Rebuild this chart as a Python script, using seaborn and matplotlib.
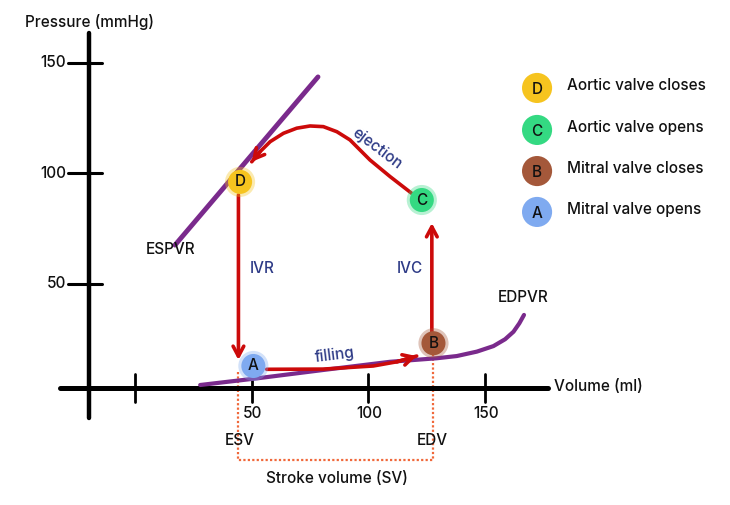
import numpy as np
import pandas as pd
import matplotlib
matplotlib.use("Agg")
import matplotlib.pyplot as plt
import seaborn as sns

# Точки клапанов (объём, мл / давление, мм рт. ст.)
valve_labels = ["A", "B", "C", "D"]
valve_volume = [50.7, 127.9, 122.9, 45.0]
valve_pressure = [12.9, 23.2, 88.0, 96.2]
valve_colors = ["#7faaf0", "#a4583a", "#34d982", "#f6c41f"]

legend_labels = ["D", "C", "B", "A"]
legend_text = ["Aortic valve closes", "Aortic valve opens",
               "Mitral valve closes", "Mitral valve opens"]
legend_colors = ["#f6c41f", "#34d982", "#a4583a", "#7faaf0"]

# Кривые
espvr_volume = [17.1, 78.4]
espvr_pressure = [67.6, 143.7]

edpvr_volume = [27.9, 52.2, 80.7, 109.3, 129.3, 137.9, 146.5, 153.6, 158.6,
                162.2, 164.7, 166.7]
edpvr_pressure = [4.3, 7.3, 11.1, 14.8, 16.4, 17.4, 19.4, 21.9, 25.0,
                  28.4, 32.2, 36.0]

ejection_volume = [122.9, 118.6, 109.3, 100.7, 92.1, 86.5, 80.7, 75.0, 69.3,
                   63.6, 57.9, 53.6, 50.0]
ejection_pressure = [88.0, 91.0, 98.6, 106.1, 115.2, 118.9, 121.2, 121.5,
                     120.5, 118.2, 114.4, 109.9, 105.3]

filling_volume = [56.4, 80.7, 102.1, 112.2, 120.7]
filling_pressure = [11.4, 11.5, 12.9, 14.8, 17.4]

ivr_volume = [44.3, 44.3]
ivr_pressure = [90.3, 15.6]
ivc_volume = [127.2, 127.2]
ivc_pressure = [23.3, 77.6]

esv = 44.3
edv = 127.9

x_ticks = [0, 50, 100, 150]
x_tick_labels = ["", "50", "100", "150"]
y_ticks = [50, 100, 150]
y_tick_labels = ["50", "100", "150"]

RED = "#cc0a0a"
PURPLE = "#7a2a8c"
NAVY = "#2d3a86"
ORANGE = "#f0683a"
FS = 11

sns.set_theme(style="white")
plt.rcParams["font.family"] = ["Inter", "DejaVu Sans"]
plt.rcParams["font.weight"] = "medium"
plt.rcParams["text.color"] = "#111111"

fig = plt.figure(figsize=(7.3, 5.05), dpi=100)
ax = fig.add_axes([0, 0, 1, 1])
ax.set_xlim(-57.9, 255.0)
ax.set_ylim(-50.0, 178.5)
ax.axis("off")

# Оси, нарисованные вручную
ax.plot([-19.7, -19.7], [-10.6, 163.6], color="black", lw=3.2,
        solid_capstyle="round", zorder=2)
ax.plot([-32.1, 177.0], [2.9, 2.9], color="black", lw=3.6,
        solid_capstyle="round", zorder=2)
for t, lab in zip(y_ticks, y_tick_labels):
    ax.plot([-28.7, -14.1], [t, t], color="black", lw=2.2, zorder=2)
    ax.text(-29.6, t, lab, ha="right", va="center", fontsize=FS)
for t, lab in zip(x_ticks, x_tick_labels):
    ax.plot([t, t], [-3.4, 9.3], color="black", lw=2.0, zorder=2)
    ax.text(t + 0.5, -8.8, lab, ha="center", va="center", fontsize=FS)

ax.text(-47.1, 168.6, "Pressure (mmHg)", ha="left", va="center", fontsize=FS)
ax.text(179.5, 3.4, "Volume (ml)", ha="left", va="center", fontsize=FS)

# ESPVR / EDPVR
sns.lineplot(x=espvr_volume, y=espvr_pressure, sort=False, estimator=None,
             color=PURPLE, lw=3.5, ax=ax, zorder=3)
sns.lineplot(x=edpvr_volume, y=edpvr_pressure, sort=False, estimator=None,
             color=PURPLE, lw=3.0, ax=ax, zorder=3)
ax.lines[-1].set_solid_capstyle("round")
ax.lines[-1].set_solid_joinstyle("round")
ax.text(15.0, 65.4, "ESPVR", ha="center", va="center", fontsize=FS)
ax.text(166.3, 43.7, "EDPVR", ha="center", va="center", fontsize=FS)

# Петля давление-объём
arrow_kw = dict(arrowstyle="->,head_length=0.6,head_width=0.32", color=RED,
                lw=2.6, shrinkA=0, shrinkB=0)
sns.lineplot(x=ejection_volume, y=ejection_pressure, sort=False,
             estimator=None, color=RED, lw=2.6, ax=ax, zorder=4)
ax.lines[-1].set_solid_joinstyle("round")
ax.annotate("", xy=(ejection_volume[-1], ejection_pressure[-1]),
            xytext=(ejection_volume[-2], ejection_pressure[-2]),
            arrowprops=arrow_kw, zorder=4)
sns.lineplot(x=filling_volume, y=filling_pressure, sort=False,
             estimator=None, color=RED, lw=2.6, ax=ax, zorder=4)
ax.lines[-1].set_solid_joinstyle("round")
ax.annotate("", xy=(filling_volume[-1], filling_pressure[-1]),
            xytext=(filling_volume[-2], filling_pressure[-2]),
            arrowprops=arrow_kw, zorder=4)
ax.annotate("", xy=(ivr_volume[1], ivr_pressure[1]),
            xytext=(ivr_volume[0], ivr_pressure[0]), arrowprops=arrow_kw,
            zorder=4)
ax.annotate("", xy=(ivc_volume[1], ivc_pressure[1]),
            xytext=(ivc_volume[0], ivc_pressure[0]), arrowprops=arrow_kw,
            zorder=4)

ax.text(103.6, 111.4, "ejection", ha="center", va="center", fontsize=FS,
        color=NAVY, rotation=-37)
ax.text(85.5, 17.8, "filling", ha="center", va="center", fontsize=FS,
        color=NAVY, rotation=7)
ax.text(54.4, 57.2, "IVR", ha="center", va="center", fontsize=FS, color=NAVY)
ax.text(117.9, 57.2, "IVC", ha="center", va="center", fontsize=FS, color=NAVY)

# ESV / EDV и ударный объём
ax.plot([esv, esv, edv, edv], [10.2, -29.6, -29.6, 17.9], color=ORANGE,
        lw=1.6, ls=(0, (1, 1)), zorder=1)
ax.text(esv + 0.7, -20.6, "ESV", ha="center", va="center", fontsize=FS)
ax.text(edv - 0.6, -21.0, "EDV", ha="center", va="center", fontsize=FS)
ax.text(86.6, -38.2, "Stroke volume (SV)", ha="center", va="center",
        fontsize=FS)

# Точки клапанов
valves = pd.DataFrame({"V": valve_volume, "P": valve_pressure,
                       "label": valve_labels})
sns.scatterplot(data=valves, x="V", y="P", hue="label",
                palette=valve_colors, s=470, alpha=0.35, linewidth=0,
                legend=False, ax=ax, zorder=5)
sns.scatterplot(data=valves, x="V", y="P", hue="label",
                palette=valve_colors, s=300, linewidth=0, legend=False,
                ax=ax, zorder=6)
for v, p, lab in zip(valve_volume, valve_pressure, valve_labels):
    ax.text(v, p, lab, ha="center", va="center", fontsize=FS, zorder=7)

# Легенда
legend_y = [138.7, 119.7, 101.1, 82.6]
leg = pd.DataFrame({"V": [172.3] * 4, "P": legend_y, "label": legend_labels})
sns.scatterplot(data=leg, x="V", y="P", hue="label", palette=legend_colors,
                s=470, linewidth=0, legend=False, ax=ax, zorder=6)
for p, lab, txt in zip(legend_y, legend_labels, legend_text):
    ax.text(172.3, p - 0.8, lab, ha="center", va="center", fontsize=FS,
            zorder=7)
    ax.text(185.2, p + 1.0, txt, ha="left", va="center", fontsize=FS)

ax.set_xlim(-57.9, 255.0)
ax.set_ylim(-50.0, 178.5)
plt.savefig("out.png", dpi=100)
